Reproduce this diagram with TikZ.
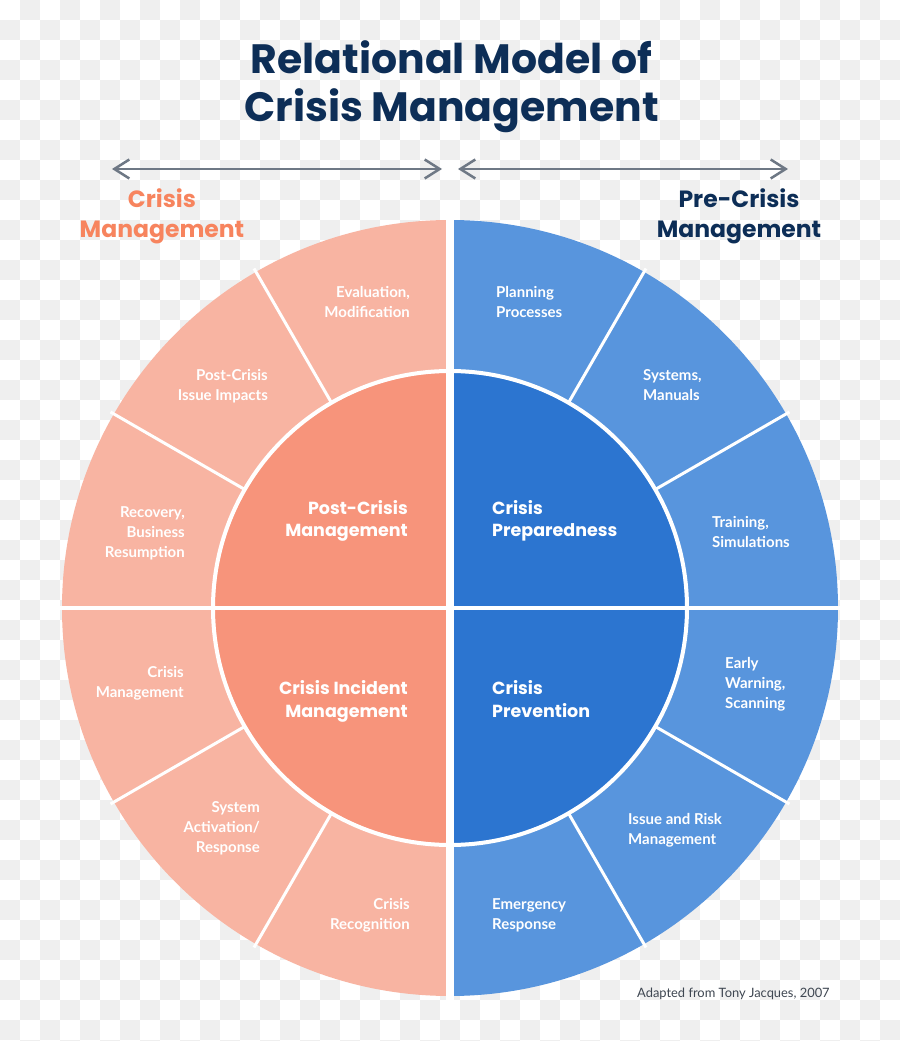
\documentclass[tikz,border=0pt]{standalone}
\usepackage{fontspec}
\setmainfont{Poppins}
\newfontfamily\segfont{Lato}
\usetikzlibrary{arrows.meta}
\definecolor{TitleNavy}{RGB}{13,46,87}
\definecolor{HeadOrange}{RGB}{247,132,94}
\definecolor{ArrowGray}{RGB}{110,120,133}
\definecolor{OuterSalmon}{RGB}{248,180,162}
\definecolor{InnerSalmon}{RGB}{247,148,123}
\definecolor{OuterBlue}{RGB}{88,149,221}
\definecolor{InnerBlue}{RGB}{44,117,208}
\definecolor{CheckGray}{RGB}{239,239,239}
\definecolor{NoteGray}{RGB}{62,70,81}
\tikzset{
  titletext/.style={font=\fontsize{41}{48}\selectfont\bfseries,text=TitleNavy,
    align=center,inner sep=0pt},
  sidehead/.style={font=\fontsize{23.5}{30}\selectfont\bfseries,align=center,inner sep=0pt},
  corelabel/.style={font=\fontsize{17.5}{22.5}\selectfont\bfseries,text=white,inner sep=0pt},
  seglabel/.style={font=\segfont\fontsize{15}{20}\selectfont\bfseries,text=white,inner sep=0pt},
  span/.style={{Straight Barb[length=15pt,width=19pt]}-{Straight Barb[length=15pt,width=19pt]},
    line width=2.5pt,draw=ArrowGray},
  divider/.style={draw=white,line width=3pt}
}

\begin{document}
\begin{tikzpicture}[x=1pt,y=1pt]
  \useasboundingbox (-450,-433) rectangle (450,608);
  \begin{scope}
    \clip (-450,-433) rectangle (450,608);
    \fill[white] (-450,-433) rectangle (450,608);
    \foreach \i in {0,...,44} {
      \foreach \j in {0,...,52} {
        \pgfmathparse{int(mod(\i+\j,2))}
        \ifnum\pgfmathresult=1
          \fill[CheckGray] ({20*\i-450},{608-20*\j}) rectangle ++(20,-20);
        \fi
      }
    }
  \end{scope}

  \fill[OuterSalmon] (90:388) arc (90:270:388) -- cycle;
  \fill[OuterBlue] (-90:388) arc (-90:90:388) -- cycle;
  \fill[InnerSalmon] (90:235) arc (90:270:235) -- cycle;
  \fill[InnerBlue] (-90:235) arc (-90:90:235) -- cycle;
  \draw[white,line width=4pt] (0,0) circle (237);
  \foreach \a in {30,60,120,150,210,240,300,330}
    \draw[divider] (\a:237) -- (\a:392);
  \fill[white] (-4,-392) rectangle (4,392);
  \fill[white] (-392,-2) rectangle (392,2);

  \node[titletext,anchor=base] (title) at (1.5,486) {Relational Model of\\Crisis Management};

  \coordinate (crisisL) at (-338,439);
  \coordinate (crisisR) at (-8,439);
  \coordinate (precrisisL) at (8,439);
  \coordinate (precrisisR) at (338,439);
  \draw[span] (crisisL) -- (crisisR);
  \draw[span] (precrisisL) -- (precrisisR);

  \node[sidehead,text=HeadOrange,anchor=base] (crisishead) at (-288,370) {Crisis\\Management};
  \node[sidehead,text=TitleNavy,anchor=base] (precrisishead) at (289,370) {Pre-Crisis\\Management};

  \node[corelabel,align=right,anchor=base east] (postcrisis) at (-42,71) {Post-Crisis\\Management};
  \node[corelabel,align=right,anchor=base east] (incident) at (-42,-109) {Crisis Incident\\Management};
  \node[corelabel,align=left,anchor=base west] (preparedness) at (42,71) {Crisis\\Preparedness};
  \node[corelabel,align=left,anchor=base west] (prevention) at (42,-109) {Crisis\\Prevention};

  \node[seglabel,align=right,anchor=base east] (evaluation) at (-40,290) {Evaluation,\\Modification};
  \node[seglabel,align=right,anchor=base east] (impacts) at (-182,207) {Post-Crisis\\Issue Impacts};
  \node[seglabel,align=right,anchor=base east] (recovery) at (-265,50) {Recovery,\\Business\\Resumption};
  \node[seglabel,align=right,anchor=base east] (crisismgmt) at (-266,-89) {Crisis\\Management};
  \node[seglabel,align=right,anchor=base east] (activation) at (-190,-244) {System\\Activation/\\Response};
  \node[seglabel,align=right,anchor=base east] (recognition) at (-40,-321) {Crisis\\Recognition};

  \node[seglabel,align=left,anchor=base west] (planning) at (46,290) {Planning\\Processes};
  \node[seglabel,align=left,anchor=base west] (systems) at (193,207) {Systems,\\Manuals};
  \node[seglabel,align=left,anchor=base west] (training) at (262,60) {Training,\\Simulations};
  \node[seglabel,align=left,anchor=base west] (warning) at (275,-100) {Early\\Warning,\\Scanning};
  \node[seglabel,align=left,anchor=base west] (risk) at (178,-236) {Issue and Risk\\Management};
  \node[seglabel,align=left,anchor=base west] (emergency) at (42,-321) {Emergency\\Response};

  \node[font=\segfont\fontsize{12.9}{15}\selectfont,text=NoteGray,anchor=base west,inner sep=0pt]
    (source) at (187,-389) {Adapted from Tony Jacques, 2007};
\end{tikzpicture}
\end{document}
